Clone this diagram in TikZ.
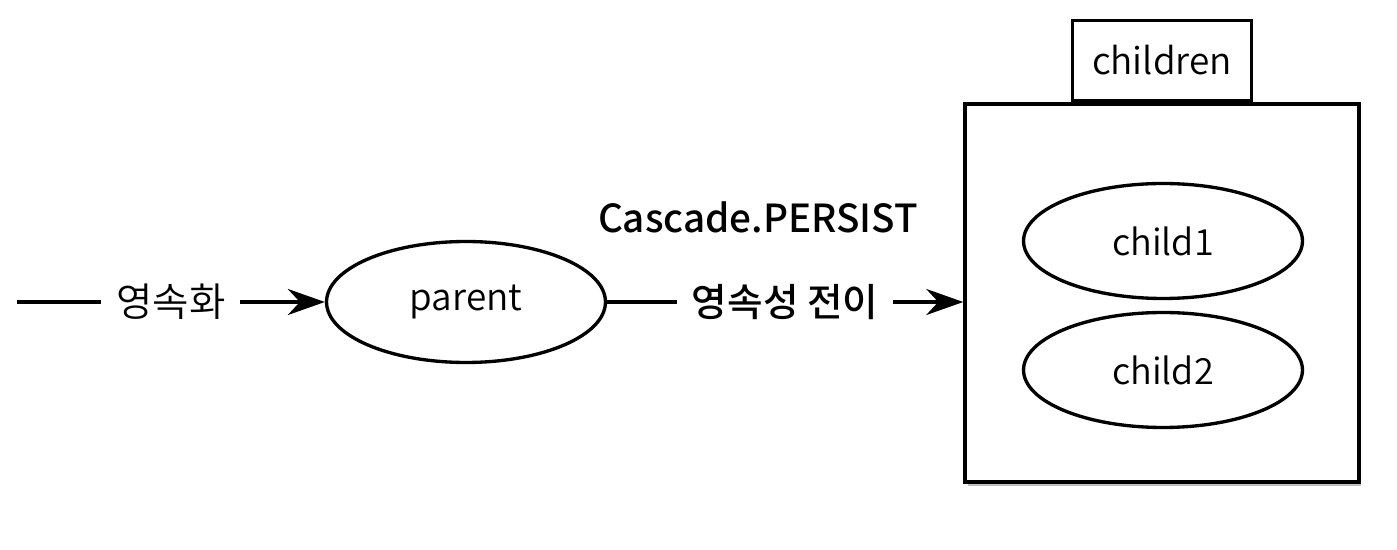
\documentclass[tikz,border=0pt]{standalone}
\usepackage{fontspec}
\setmainfont{Noto Sans CJK KR DemiLight}[BoldFont={Noto Sans CJK KR Medium}]
\usetikzlibrary{positioning,shapes.geometric,arrows.meta,shadows}

\begin{document}
\begin{tikzpicture}[x=0.02cm,y=-0.02cm,
  entity/.style={ellipse,draw,line width=1.9pt,minimum width=5.58cm,minimum height=2.35cm,font=\fontsize{20.5}{24}\selectfont},
  group/.style={rectangle,draw,line width=2pt,fill=white,minimum width=7.88cm,minimum height=7.56cm,
    drop shadow={opacity=0.5,shadow xshift=0.05cm,shadow yshift=-0.09cm}},
  tab/.style={rectangle,draw,line width=2pt,minimum width=3.58cm,minimum height=1.6cm,font=\fontsize{21}{24}\selectfont},
  flow/.style={line width=2pt,-{Stealth[length=0.74cm,width=0.52cm,inset=0.24cm]}},
  edgelabel/.style={fill=white,inner xsep=0.3cm,font=\fontsize{22.5}{26}\selectfont}]

  \useasboundingbox (0,0) rectangle (1397,550);

  \node[group] (children) at (1162,293) {};
  \node[tab,above=0pt of children] (childrenTab) {children};
  \node[entity,minimum height=2.3cm] (child1) at (1163,241) {child1};
  \node[entity,minimum height=2.3cm] (child2) at (1163,370) {child2};

  \node[entity,minimum height=2.42cm,font=\fontsize{21}{24}\selectfont] (parent) at (466,302) {parent};
  \coordinate (start) at (17,302);

  \draw[flow] (start) -- node[edgelabel] (persistLbl) {영속화} (parent);
  \draw[flow] (parent.east) -- node[edgelabel,font=\bfseries\fontsize{22}{26}\selectfont] (cascadeLbl) {영속성 전이} (parent.east -| children.west);

  \node[font=\bfseries\fontsize{22}{26}\selectfont] (cascade) at (758,217) {Cascade.PERSIST};
\end{tikzpicture}
\end{document}
